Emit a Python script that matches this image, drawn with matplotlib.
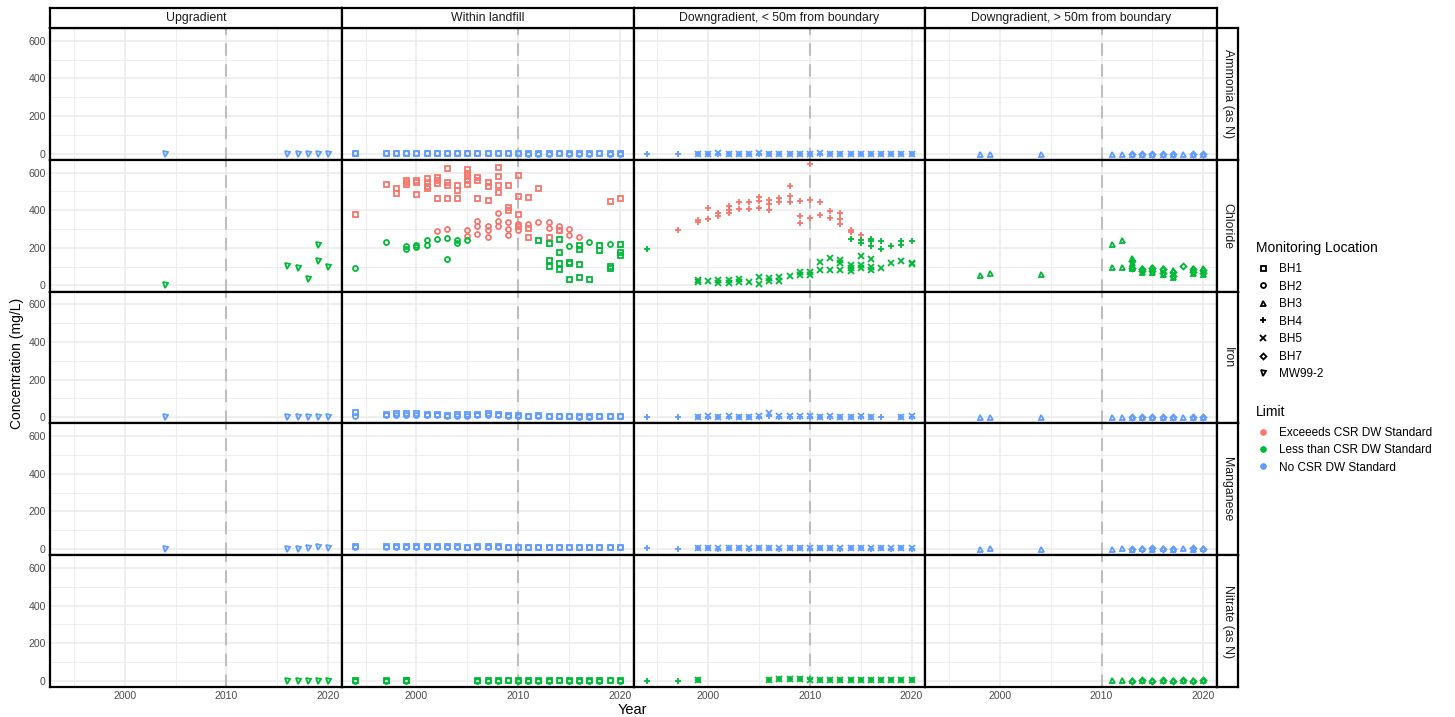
import matplotlib
matplotlib.use('Agg')
import matplotlib.pyplot as plt
from matplotlib.lines import Line2D
from matplotlib.ticker import MultipleLocator

plt.rcParams['font.family'] = ['Liberation Sans', 'DejaVu Sans']

params = ['Ammonia (as N)', 'Chloride', 'Iron', 'Manganese', 'Nitrate (as N)']
zones = ['Upgradient', 'Within landfill', 'Downgradient, < 50m from boundary',
         'Downgradient, > 50m from boundary']
locations = ['BH1', 'BH2', 'BH3', 'BH4', 'BH5', 'BH7', 'MW99-2']
loc_markers = ['s', 'o', '^', '+', 'x', 'D', 'v']
limits = ['Exceeeds CSR DW Standard', 'Less than CSR DW Standard', 'No CSR DW Standard']
limit_colors = ['#F8766D', '#00BA38', '#619CFF']
chloride_std = 250

# sampling years
yrs_up = [2004, 2016, 2017, 2018, 2019, 2020]
yrs_land = [1994, 1997, 1998, 1999, 2000, 2001, 2002, 2003, 2004, 2005, 2006, 2007, 2008,
            2009, 2010, 2011, 2012, 2013, 2014, 2015, 2016, 2017, 2018, 2019, 2020]
yrs_bh4 = [1994, 1997, 1999, 2000, 2001, 2002, 2003, 2004, 2005, 2006, 2007, 2008, 2009,
           2010, 2011, 2012, 2013, 2014, 2015, 2016, 2017, 2018, 2019, 2020]
yrs_bh5 = [1999, 2000, 2001, 2002, 2003, 2004, 2005, 2006, 2007, 2008, 2009, 2010, 2011,
           2012, 2013, 2014, 2015, 2016, 2017, 2018, 2019, 2020]
yrs_bh3 = [1998, 1999, 2004, 2011, 2012, 2013, 2014, 2015, 2016, 2017, 2018, 2019, 2020]
yrs_bh7 = [2013, 2014, 2015, 2016, 2017, 2019, 2020]

# Ammonia (as N)
amm_up = [0.4, 0.3, 0.2, 0.3, 0.4, 0.3]
amm_bh1 = [1.5, 1.2, 1.8, 2.0, 1.6, 1.4, 1.9, 2.2, 1.7, 1.5, 1.3, 1.6, 1.8, 1.4, 1.2,
           1.1, 1.0, 0.9, 1.2, 1.0, 0.8, 0.9, 1.1, 0.7, 0.8]
amm_bh2 = [0.8, 0.6, 0.9, 1.0, 0.8, 0.7, 0.9, 1.1, 0.8, 0.7, 0.6, 0.8, 0.9, 0.7, 0.6,
           0.5, 0.5, 0.4, 0.6, 0.5, 0.4, 0.5, 0.6, 0.4, 0.4]
amm_bh4 = [0.3, 0.2, 0.4, 0.3, 0.2, 0.3, 0.4, 0.3, 0.2, 0.3, 0.3, 0.2, 0.4, 0.3, 0.2,
           0.3, 0.2, 0.3, 0.2, 0.3, 0.2, 0.3, 0.2, 0.3]
amm_bh5 = [0.5, 0.4, 0.6, 0.5, 0.4, 0.5, 0.6, 0.5, 0.4, 0.5, 0.5, 0.4, 0.6, 0.5, 0.4,
           0.5, 0.4, 0.5, 0.4, 0.5, 0.4, 0.5]
amm_bh3 = [0.3, 0.4, 0.3, 0.2, 0.3, 0.2, 0.3, 0.2, 0.3, 0.2, 0.3, 0.2, 0.3]
amm_bh7 = [0.2, 0.3, 0.2, 0.3, 0.2, 0.3, 0.2]

# Chloride
chl_up_yr = [2004, 2016, 2017, 2018, 2019, 2019, 2020]
chl_up = [4, 103, 92, 36, 213, 128, 98]
chl_bh1_yr = [1994, 1997, 1998, 1998, 1999, 1999, 1999, 2000, 2000, 2000, 2001, 2001, 2001,
              2001, 2002, 2002, 2002, 2002, 2003, 2003, 2003, 2003, 2004, 2004, 2004, 2005,
              2005, 2005, 2005, 2005, 2006, 2006, 2006, 2007, 2007, 2007, 2008, 2008, 2008,
              2008, 2009, 2009, 2009, 2010, 2010, 2010, 2010, 2011, 2011, 2011, 2012, 2012,
              2013, 2013, 2013, 2013, 2014, 2014, 2014, 2014, 2014, 2015, 2015, 2015, 2016,
              2016, 2016, 2016, 2017, 2018, 2018, 2019, 2019, 2019, 2020, 2020, 2020, 2020]
chl_bh1 = [382, 540, 517, 491, 560, 548, 540, 558, 548, 486, 572, 550, 530,
           517, 575, 560, 545, 463, 626, 550, 535, 463, 535, 509, 464, 620,
           600, 580, 560, 540, 575, 563, 463, 550, 527, 455, 630, 581, 535,
           495, 536, 418, 401, 589, 473, 378, 315, 472, 306, 257, 517, 239,
           257, 228, 135, 103, 297, 246, 180, 117, 86, 126, 117, 36, 216,
           193, 113, 45, 34, 216, 189, 450, 103, 90, 463, 221, 180, 162]
chl_bh2_yr = [1994, 1997, 1999, 1999, 2000, 2000, 2001, 2001, 2002, 2002, 2003, 2003, 2003,
              2004, 2004, 2005, 2005, 2005, 2006, 2006, 2006, 2007, 2007, 2007, 2008, 2008,
              2008, 2009, 2009, 2009, 2010, 2010, 2011, 2012, 2013, 2013, 2014, 2014, 2015,
              2015, 2015, 2016, 2017, 2019]
chl_bh2 = [95, 230, 207, 193, 216, 203, 243, 214, 288, 246, 302, 250, 142,
           243, 225, 293, 261, 239, 342, 315, 275, 318, 297, 257, 387, 342,
           315, 337, 300, 270, 324, 297, 324, 337, 337, 306, 318, 297, 300,
           270, 210, 256, 232, 221]
chl_bh4_yr = [1994, 1997, 1999, 1999, 2000, 2000, 2001, 2001, 2002, 2002, 2002, 2003, 2003,
              2004, 2004, 2005, 2005, 2005, 2006, 2006, 2006, 2007, 2007, 2008, 2008, 2008,
              2009, 2009, 2009, 2010, 2010, 2010, 2011, 2011, 2012, 2012, 2013, 2013, 2013,
              2014, 2014, 2014, 2015, 2015, 2015, 2016, 2016, 2016, 2017, 2017, 2018, 2019,
              2019, 2020]
chl_bh4 = [193, 297, 346, 337, 409, 351, 387, 369, 423, 401, 387, 441, 405,
           441, 405, 468, 450, 414, 455, 432, 401, 463, 441, 526, 477, 441,
           450, 369, 333, 648, 455, 360, 441, 373, 396, 360, 383, 351, 324,
           297, 283, 248, 270, 243, 225, 248, 234, 211, 234, 193, 211, 234,
           216, 238]
chl_bh5_yr = [1999, 1999, 2000, 2001, 2001, 2002, 2002, 2003, 2003, 2004, 2005, 2005, 2006,
              2006, 2007, 2007, 2008, 2009, 2009, 2010, 2010, 2011, 2011, 2012, 2012, 2013,
              2013, 2013, 2014, 2014, 2014, 2015, 2015, 2015, 2016, 2016, 2016, 2017, 2018,
              2019, 2020, 2020]
chl_bh5 = [27, 18, 23, 27, 13, 31, 13, 32, 18, 16, 45, 9, 41,
           23, 45, 23, 50, 72, 54, 72, 54, 122, 81, 144, 81, 135,
           117, 81, 108, 90, 76, 157, 108, 90, 139, 99, 81, 95, 117,
           131, 121, 112]
chl_bh3_yr = [1998, 1999, 2004, 2011, 2011, 2012, 2012, 2013, 2013, 2013, 2013, 2014, 2014,
              2015, 2015, 2016, 2016, 2017, 2017, 2019, 2019, 2020, 2020]
chl_bh3 = [54, 68, 59, 221, 99, 243, 99, 144, 117, 99, 90, 90, 72,
           99, 72, 95, 59, 81, 45, 90, 67, 90, 63]
chl_bh7_yr = [2013, 2013, 2014, 2014, 2015, 2015, 2016, 2016, 2017, 2017, 2018, 2019, 2019,
              2020, 2020]
chl_bh7 = [130, 95, 85, 75, 90, 75, 85, 65, 70, 50, 103, 85, 70, 80, 65]

# Iron
fe_up = [0.5, 0.4, 0.6, 0.8, 1.2, 1.0]
fe_bh1 = [25, 18, 22, 20, 24, 18, 16, 14, 15, 16, 18, 20, 16, 14, 10,
          9, 12, 8, 8, 9, 7, 6, 6, 7, 8]
fe_bh2 = [5, 10, 14, 12, 14, 12, 10, 9, 8, 9, 10, 12, 10, 8, 6,
          5, 6, 4, 4, 5, 3, 3, 4, 4, 5]
fe_bh4_yr = [1994, 1997, 1999, 2000, 2001, 2002, 2003, 2004, 2005, 2006, 2007, 2008, 2009,
             2010, 2011, 2012, 2013, 2014, 2015, 2016, 2017, 2019, 2020]
fe_bh4 = [2, 1, 3, 2, 2, 3, 2, 2, 3, 4, 3, 2, 3, 2, 2, 3, 2, 2, 3, 2, 1, 2, 2]
fe_bh5_yr = [1999, 2000, 2001, 2002, 2003, 2004, 2005, 2006, 2007, 2008, 2009, 2010, 2011,
             2012, 2013, 2014, 2015, 2016, 2019, 2020]
fe_bh5 = [3, 4, 3, 4, 3, 3, 5, 20, 6, 5, 8, 4, 3, 4, 3, 3, 4, 3, 3, 4]
fe_bh3 = [2, 1, 1, 2, 3, 2, 2, 3, 2, 2, 3, 2, 2]
fe_bh7 = [1, 2, 1, 2, 1, 2, 1]

# Manganese
mn_up = [1, 1, 2, 3, 8, 6]
mn_bh1 = [16, 14, 15, 16, 17, 15, 14, 15, 14, 13, 14, 15, 14, 13, 12,
          13, 12, 11, 12, 11, 12, 10, 11, 12, 11]
mn_bh2 = [12, 10, 11, 12, 13, 11, 10, 11, 10, 9, 10, 11, 10, 9, 9,
          10, 9, 8, 9, 8, 9, 8, 8, 9, 8]
mn_bh4 = [3, 2, 3, 3, 2, 3, 3, 2, 3, 3, 2, 3, 3, 2, 3, 3, 2, 3, 3, 2, 3, 2, 3, 2]
mn_bh5 = [4, 3, 4, 4, 3, 4, 3, 4, 3, 4, 4, 3, 4, 3, 4, 3, 4, 3, 4, 3, 4, 3]
mn_bh3 = [2, 3, 2, 2, 3, 2, 3, 2, 3, 2, 3, 2, 3]
mn_bh7 = [2, 2, 3, 2, 2, 3, 2]

# Nitrate (as N)
no3_up_yr = [2016, 2017, 2018, 2019, 2020]
no3_up = [1.0, 0.8, 0.6, 0.9, 0.7]
no3_land_yr = [1994, 1997, 1999, 1999, 2006, 2007, 2008, 2009, 2010, 2011, 2012, 2013, 2014,
               2015, 2016, 2017, 2018, 2019, 2020]
no3_bh1 = [2, 2, 2, 3, 2, 2, 2, 3, 2, 2, 2, 2, 3, 2, 2, 2, 2, 3, 2]
no3_bh2 = [1, 1, 1, 2, 1, 1, 1, 2, 1, 1, 1, 1, 2, 1, 1, 1, 1, 4, 1]
no3_bh4_yr = [1994, 1997, 1999, 1999, 2006, 2007, 2008, 2009, 2010, 2011, 2012, 2013, 2014,
              2015, 2016, 2017, 2018, 2019, 2020]
no3_bh4 = [1, 1, 2, 3, 6, 8, 8, 9, 7, 5, 4, 4, 5, 4, 4, 3, 4, 5, 4]
no3_bh5_yr = [1999, 2006, 2007, 2008, 2009, 2010, 2011, 2012, 2013, 2014, 2015, 2016, 2017,
              2018, 2019, 2020]
no3_bh5 = [2, 5, 7, 8, 8, 6, 4, 3, 4, 4, 3, 3, 3, 4, 4, 3]
no3_bh3_yr = [2011, 2012, 2013, 2014, 2015, 2016, 2017, 2018, 2019, 2020]
no3_bh3 = [2, 2, 3, 2, 2, 3, 2, 2, 3, 2]
no3_bh7_yr = [2013, 2014, 2015, 2016, 2017, 2018, 2019, 2020]
no3_bh7 = [1, 2, 1, 2, 1, 2, 1, 2]

# (parameter, zone, location, years, values)
series = [
    (0, 0, 'MW99-2', yrs_up, amm_up), (0, 1, 'BH1', yrs_land, amm_bh1),
    (0, 1, 'BH2', yrs_land, amm_bh2), (0, 2, 'BH4', yrs_bh4, amm_bh4),
    (0, 2, 'BH5', yrs_bh5, amm_bh5), (0, 3, 'BH3', yrs_bh3, amm_bh3),
    (0, 3, 'BH7', yrs_bh7, amm_bh7),
    (1, 0, 'MW99-2', chl_up_yr, chl_up), (1, 1, 'BH1', chl_bh1_yr, chl_bh1),
    (1, 1, 'BH2', chl_bh2_yr, chl_bh2), (1, 2, 'BH4', chl_bh4_yr, chl_bh4),
    (1, 2, 'BH5', chl_bh5_yr, chl_bh5), (1, 3, 'BH3', chl_bh3_yr, chl_bh3),
    (1, 3, 'BH7', chl_bh7_yr, chl_bh7),
    (2, 0, 'MW99-2', yrs_up, fe_up), (2, 1, 'BH1', yrs_land, fe_bh1),
    (2, 1, 'BH2', yrs_land, fe_bh2), (2, 2, 'BH4', fe_bh4_yr, fe_bh4),
    (2, 2, 'BH5', fe_bh5_yr, fe_bh5), (2, 3, 'BH3', yrs_bh3, fe_bh3),
    (2, 3, 'BH7', yrs_bh7, fe_bh7),
    (3, 0, 'MW99-2', yrs_up, mn_up), (3, 1, 'BH1', yrs_land, mn_bh1),
    (3, 1, 'BH2', yrs_land, mn_bh2), (3, 2, 'BH4', yrs_bh4, mn_bh4),
    (3, 2, 'BH5', yrs_bh5, mn_bh5), (3, 3, 'BH3', yrs_bh3, mn_bh3),
    (3, 3, 'BH7', yrs_bh7, mn_bh7),
    (4, 0, 'MW99-2', no3_up_yr, no3_up), (4, 1, 'BH1', no3_land_yr, no3_bh1),
    (4, 1, 'BH2', no3_land_yr, no3_bh2), (4, 2, 'BH4', no3_bh4_yr, no3_bh4),
    (4, 2, 'BH5', no3_bh5_yr, no3_bh5), (4, 3, 'BH3', no3_bh3_yr, no3_bh3),
    (4, 3, 'BH7', no3_bh7_yr, no3_bh7),
]


def limit_color(p, v):
    if params[p] == 'Chloride':
        return limit_colors[0] if v > chloride_std else limit_colors[1]
    if params[p] == 'Nitrate (as N)':
        return limit_colors[1]
    return limit_colors[2]


def marker_size(m):
    if m == 'D':
        return 3.0
    if m in ('+', 'x'):
        return 4.0
    return 3.6


W, H = 1455, 717
fig = plt.figure(figsize=(W / 100, H / 100), dpi=100)

x0, y0 = 50, 28
pw, ph = (1217 - 50) / 4, (687 - 28) / 5
grey = '#4D4D4D'


def fig_rect(left, top, w, h):
    return [left / W, 1 - (top + h) / H, w / W, h / H]


axes = {}
for r in range(5):
    for c in range(4):
        ax = fig.add_axes(fig_rect(x0 + c * pw, y0 + r * ph, pw, ph))
        ax.set_xlim(1992.65, 2021.35)
        ax.set_ylim(-33, 668)
        ax.xaxis.set_major_locator(MultipleLocator(10))
        ax.xaxis.set_minor_locator(MultipleLocator(5))
        ax.yaxis.set_major_locator(MultipleLocator(200))
        ax.yaxis.set_minor_locator(MultipleLocator(100))
        ax.grid(which='major', color='#EBEBEB', lw=1.1)
        ax.grid(which='minor', color='#EBEBEB', lw=0.6)
        ax.set_axisbelow(True)
        ax.axvline(2010, color='#BEBEBE', lw=1.5, ls=(0, (6, 4)), zorder=1.5)
        for s in ax.spines.values():
            s.set_linewidth(1.6)
            s.set_color('black')
        ax.tick_params(which='both', length=0, labelsize=7.6, labelcolor=grey, pad=3)
        if r < 4:
            ax.tick_params(labelbottom=False)
        if c > 0:
            ax.tick_params(labelleft=False)
        axes[(r, c)] = ax

for p, z, loc, yrs, vals in series:
    ax = axes[(p, z)]
    m = loc_markers[locations.index(loc)]
    for yr, v in zip(yrs, vals):
        col = limit_color(p, v)
        ax.plot(yr, v, ls='none', marker=m, ms=marker_size(m), mfc='none', mec=col,
                mew=1.3, zorder=3)

# facet strips
for c, z in enumerate(zones):
    sax = fig.add_axes(fig_rect(x0 + c * pw, 8, pw, 20))
    sax.set_xticks([])
    sax.set_yticks([])
    for s in sax.spines.values():
        s.set_linewidth(1.6)
    sax.text(0.5, 0.5, z, ha='center', va='center', fontsize=8.8, color='#1A1A1A')

for r, pname in enumerate(params):
    sax = fig.add_axes(fig_rect(1217, y0 + r * ph, 21, ph))
    sax.set_xticks([])
    sax.set_yticks([])
    for s in sax.spines.values():
        s.set_linewidth(1.6)
    sax.text(0.5, 0.5, pname, ha='center', va='center', rotation=-90, fontsize=8.8,
             color='#1A1A1A')

fig.text(17 / W, 1 - 363 / H, 'Concentration (mg/L)', rotation=90, ha='center',
         va='center', fontsize=10)
fig.text(632 / W, 1 - 710 / H, 'Year', ha='center', va='center', fontsize=10.5)

# legends
loc_handles = [Line2D([], [], ls='none', marker=m, ms=marker_size(m),
                      mfc='none', mec='black', mew=1.3) for m in loc_markers]
leg1 = fig.legend(loc_handles, locations, title='Monitoring Location',
                  loc='upper left', bbox_to_anchor=(1245 / W, 1 - 230 / H),
                  frameon=False, fontsize=8.5, title_fontsize=10, alignment='left',
                  handlelength=1.2, handletextpad=0.8, labelspacing=0.47)
leg1._legend_box.sep = 6
lim_handles = [Line2D([], [], ls='none', marker='o', ms=3.8, mfc=col, mec=col)
               for col in limit_colors]
leg2 = fig.legend(lim_handles, limits, title='Limit', loc='upper left',
                  bbox_to_anchor=(1245 / W, 1 - 394 / H), frameon=False, fontsize=8.5,
                  title_fontsize=10, alignment='left', handlelength=1.2,
                  handletextpad=0.8, labelspacing=0.45)
leg2._legend_box.sep = 6

fig.savefig('out.png', dpi=100)
